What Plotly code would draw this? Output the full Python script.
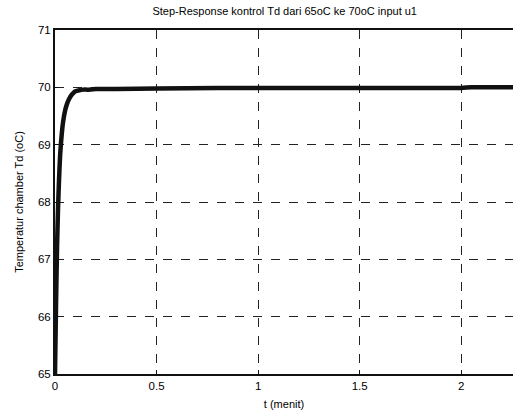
import plotly.graph_objects as go

t = [0, 0.005, 0.01, 0.015, 0.02, 0.025, 0.03, 0.035, 0.04, 0.05, 0.06, 0.07,
     0.08, 0.09, 0.1, 0.12, 0.14, 0.16, 0.2, 0.3, 0.5, 0.8, 1.0, 1.5, 2.0, 2.05, 2.26]
temp = [65, 66.2, 67.2, 67.9, 68.4, 68.8, 69.05, 69.25, 69.4, 69.6, 69.72, 69.8,
        69.86, 69.9, 69.93, 69.95, 69.96, 69.96, 69.97, 69.97, 69.98, 69.99, 69.99,
        69.99, 69.99, 70.0, 70.0]

x_ticks = [0, 0.5, 1, 1.5, 2]
x_labels = ["0", "0.5", "1", "1.5", "2"]
y_ticks = [65, 66, 67, 68, 69, 70, 71]

font = "Liberation Sans, Arial, sans-serif"

fig = go.Figure()
fig.add_trace(go.Scatter(x=t, y=temp, mode="lines",
                         line=dict(color="#111111", width=4.5, shape="spline", smoothing=0.6),
                         showlegend=False))

fig.update_layout(
    width=513, height=414,
    margin=dict(l=55, r=0, t=30, b=40),
    paper_bgcolor="white", plot_bgcolor="white",
    title=dict(text="Step-Response kontrol Td dari 65oC ke 70oC input u1",
               x=0.555, xanchor="center", y=0.972, yanchor="middle",
               font=dict(family=font, size=11, color="#000000")),
    font=dict(family=font, size=11, color="#000000"),
    xaxis=dict(range=[0, 2.255], tickvals=x_ticks, ticktext=x_labels,
               showgrid=True, gridcolor="#222222", griddash="dash", gridwidth=1.2,
               zeroline=False, showline=True, linecolor="#111111", linewidth=1.5,
               mirror=True, ticks="inside", ticklen=4, tickcolor="#111111",
               title=dict(text="t (menit)", standoff=10,
                          font=dict(family=font, size=11, color="#000000")),
               tickfont=dict(family=font, size=11.5, color="#000000")),
    yaxis=dict(range=[65, 71], tickvals=y_ticks,
               showgrid=True, gridcolor="#222222", griddash="dash", gridwidth=1.2,
               zeroline=False, showline=True, linecolor="#111111", linewidth=2,
               ticks="inside", ticklen=4, tickcolor="#111111",
               title=dict(text="Temperatur chamber Td (oC)", standoff=12,
                          font=dict(family=font, size=11, color="#000000")),
               tickfont=dict(family=font, size=11.5, color="#000000")),
)

fig.write_html("out.html")
